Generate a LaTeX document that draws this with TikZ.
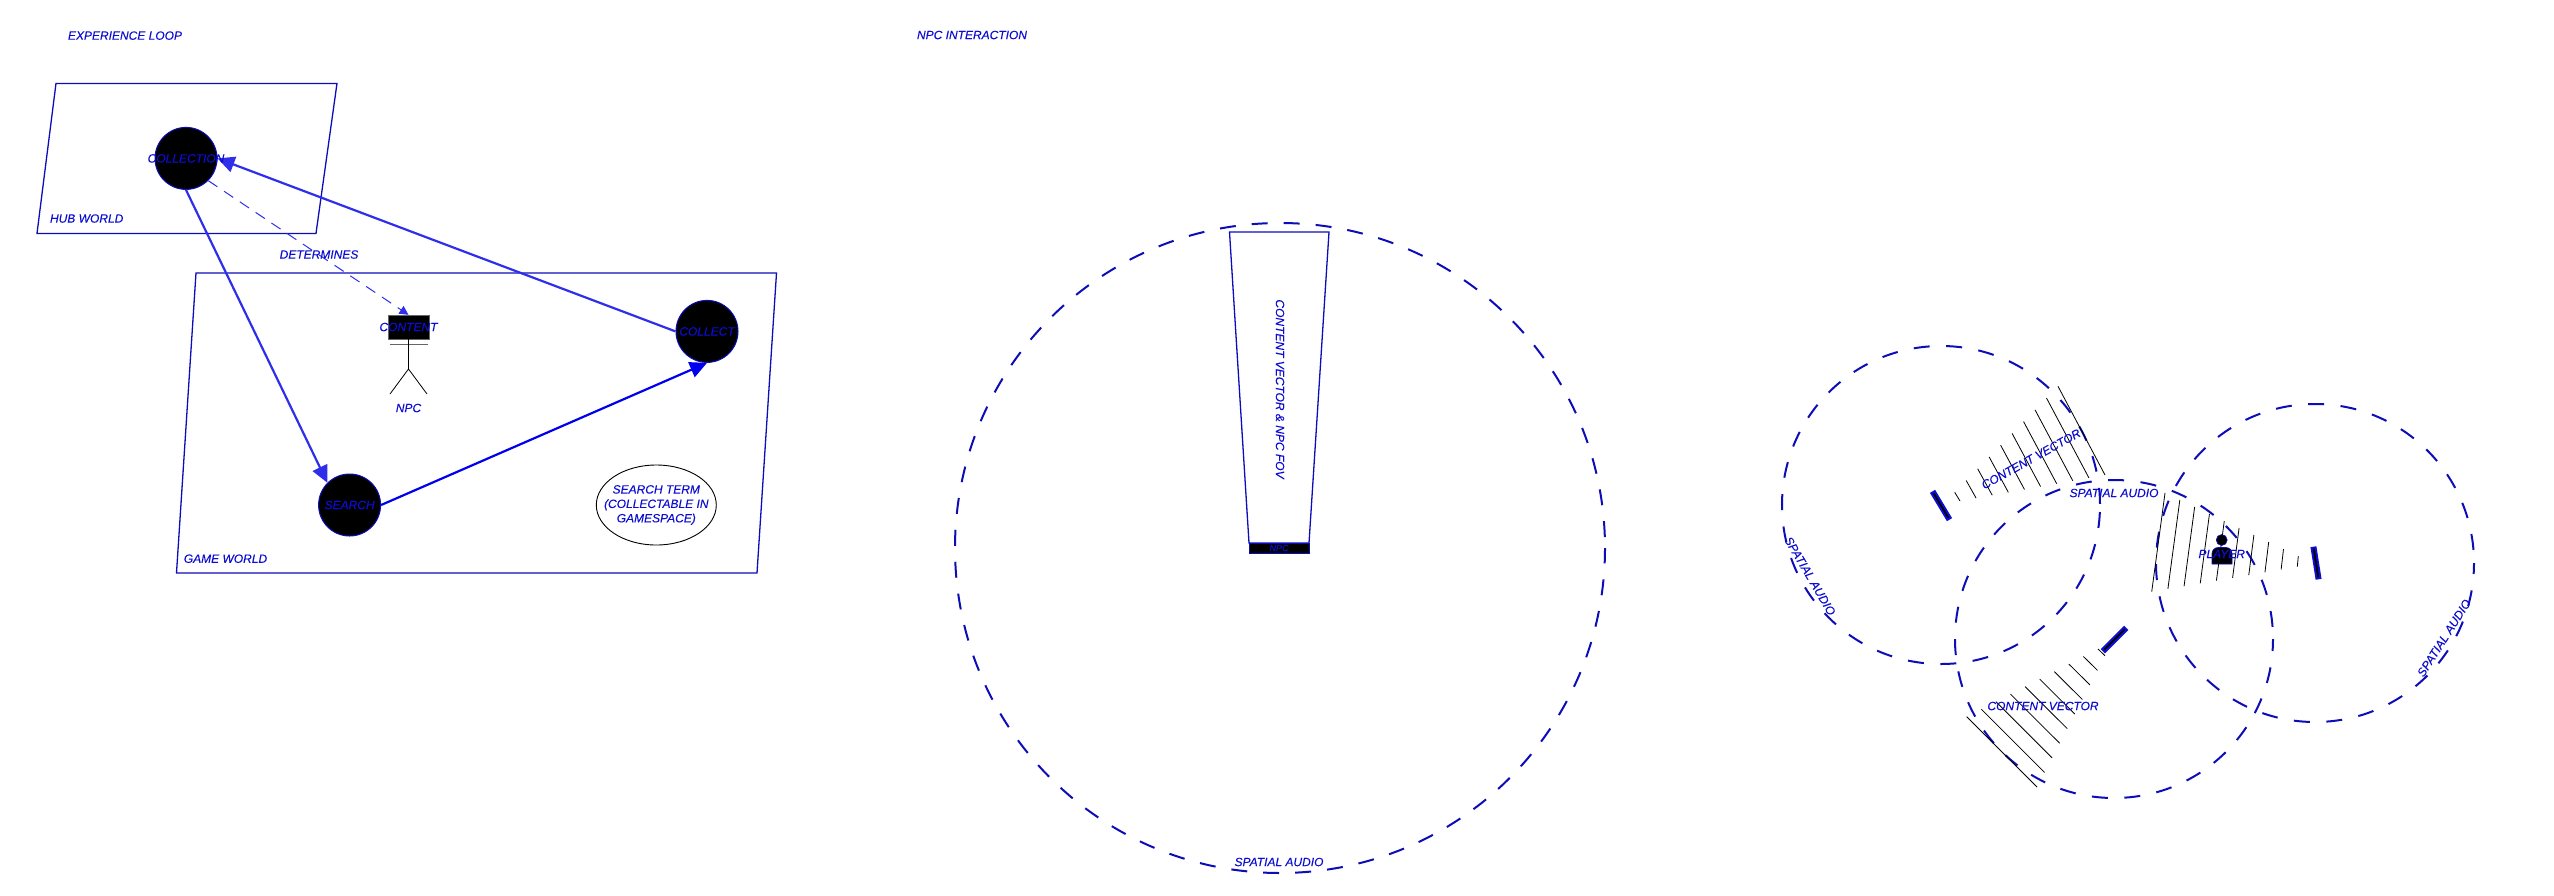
\documentclass[tikz,border=0pt]{standalone}
\usepackage{fontspec}
\setmainfont{Liberation Sans}
\newfontface\lblface{Liberation Sans Italic}[FakeBold=0.12]
\usetikzlibrary{arrows.meta,calc,shapes.geometric}
\begin{document}
\begin{tikzpicture}[x=1pt, y=-1pt,
  lbl/.style={text=labelBlue, font=\fontsize{12}{14.4}\lblface, inner sep=0pt, align=center},
  world/.style={draw=frameBlue, line width=1.3pt, line join=miter},
  stagecircle/.style={circle, draw=frameBlue, fill=black, line width=1pt, minimum size=62pt, inner sep=0pt},
  loopline/.style={draw=loopBlue, line width=2.2pt, -{Triangle[length=17pt,width=16pt]}},
  audio/.style={draw=frameBlue, line width=2pt, dash pattern=on 16pt off 16.5pt},
  tick/.style={draw=black, line width=0.8pt},
  facebar/.style={draw=labelBlue, fill=black, line width=2pt, minimum width=31pt, minimum height=4pt, inner sep=0pt},
]
\definecolor{labelBlue}{rgb}{0.05,0.05,0.82}
\definecolor{frameBlue}{rgb}{0.05,0.05,0.72}
\definecolor{loopBlue}{rgb}{0.18,0.18,0.92}
\useasboundingbox (0,0) rectangle (2554,895);
% Experience loop
\node[lbl] (looptitle) at (125,35.6) {EXPERIENCE LOOP};
\draw[world] (56,83.4) -- (337,83.4) -- (316,233.4) -- (37,233.4) -- cycle;
\draw[world] (196,273) -- (776.5,273) -- (757,573) -- (176.5,573) -- cycle;
\node[lbl] (hubworld) at (86.7,218.5) {HUB WORLD};
\node[lbl] (gameworld) at (225.5,558.7) {GAME WORLD};
\node[stagecircle] (collection) at (186,158.4) {};
\node[stagecircle] (search) at (349.6,505) {};
\node[stagecircle] (collect) at (707,331.4) {};
\node[draw=black, line width=0.9pt, ellipse, minimum width=120pt, minimum height=80pt, inner sep=0pt] (termring) at (656.3,505) {};
\node[lbl] (searchterm) at (termring) {SEARCH TERM\\(COLLECTABLE IN\\GAMESPACE)};
% NPC figure
\node[draw=black!60, fill=black, minimum width=41pt, minimum height=24pt, inner sep=0pt] (contentbox) at (408.5,327) {};
\coordinate (hip) at (408.5,369);
\draw[black!60, line width=1pt] (389.5,344) -- (427.5,344);
\draw[black, line width=1pt] (contentbox.south) -- (hip);
\draw[black, line width=0.8pt] (390,394) -- (hip) -- (427,394);
\node[lbl] (npc) at (408.5,408) {NPC};
% Loop arrows
\draw[loopline] (collection.south) -- (search.north west);
\draw[loopline, draw=blue!93!black] (search.east) -- (collect.south);
\draw[loopline] (collect.west) -- (collection.east);
\draw[draw=loopBlue, line width=1pt, dash pattern=on 11pt off 8pt, -{Triangle[length=9pt,width=9pt]}] (collection.south east) -- (contentbox.north);
% Labels above the arrows
\node[lbl] (collectionlbl) at (collection) {COLLECTION};
\node[lbl] (searchlbl) at (search) {SEARCH};
\node[lbl] (collectlbl) at (collect) {COLLECT};
\node[lbl] (content) at (contentbox) {CONTENT};
\node[lbl] (determines) at (319,254.5) {DETERMINES};
% NPC interaction
\node[lbl] (npctitle) at (972,35) {NPC INTERACTION};
\draw[audio, dash pattern=on 16pt off 16pt, dash phase=0.6pt] (1280,548) circle (325);
\node[lbl] (bigaudio) at (1279,862) {SPATIAL AUDIO};
\draw[world] (1229.5,232) -- (1329,232) -- (1309,543) -- (1249,543) -- cycle;
\node[draw=frameBlue, fill=black, line width=1pt, minimum width=60pt, minimum height=10pt, inner sep=0pt] (npcbar) at (1279,548) {};
\node[lbl, font=\fontsize{9}{10}\lblface] (npcbartext) at (npcbar) {NPC};
\node[lbl, rotate=-90] (fovlabel) at (1280,389) {CONTENT VECTOR \& NPC FOV};
% Three audio circles
\draw[audio, dash phase=25.5pt] (1941,505) circle (159);
\draw[audio, dash phase=4pt] (2114,639) circle (159);
\draw[audio, dash phase=5pt] (2315,563) circle (159);
% Content vector fans
\foreach \n in {0,...,9}{
  \draw[tick] ($(1954.7,492.3)!\n/9!(2058,386.3)$) -- ($(1960,501)!\n/9!(2105,475)$);
  \draw[tick] ($(2098,649)!\n/9!(1966.7,716.7)$) -- ($(2105,655.7)!\n/9!(2037,787)$);
  \draw[tick] ($(2298.3,556)!\n/9!(2165,493)$) -- ($(2297.3,566.7)!\n/9!(2151.7,591.7)$);
}
\node[facebar, rotate=-59] (bara) at (1941,505.5) {};
\node[facebar, rotate=45] (barb) at (2114.5,639.5) {};
\node[facebar, rotate=-81] (barc) at (2316,563) {};
% Player
\fill[black, draw=frameBlue, line width=0.6pt] (2221.7,540) circle (5.5);
\fill[black, draw=frameBlue, line width=0.6pt] (2212,564) [rounded corners=6pt] -- (2212,547.5) -- (2232,547.5) [sharp corners] -- (2232,564) -- cycle;
\node[lbl] (player) at (2221.7,554) {PLAYER};
% Labels round the circles
\node[lbl, rotate=29] (cva) at (2031,459) {CONTENT VECTOR};
\node[lbl] (cvb) at (2043,706) {CONTENT VECTOR};
\node[lbl] (audiotop) at (2114,493) {SPATIAL AUDIO};
\node[lbl, rotate=-59.6] (audioa) at (1810,576) {SPATIAL AUDIO};
\node[lbl, rotate=57.5] (audioc) at (2444,638) {SPATIAL AUDIO};
\end{tikzpicture}
\end{document}
